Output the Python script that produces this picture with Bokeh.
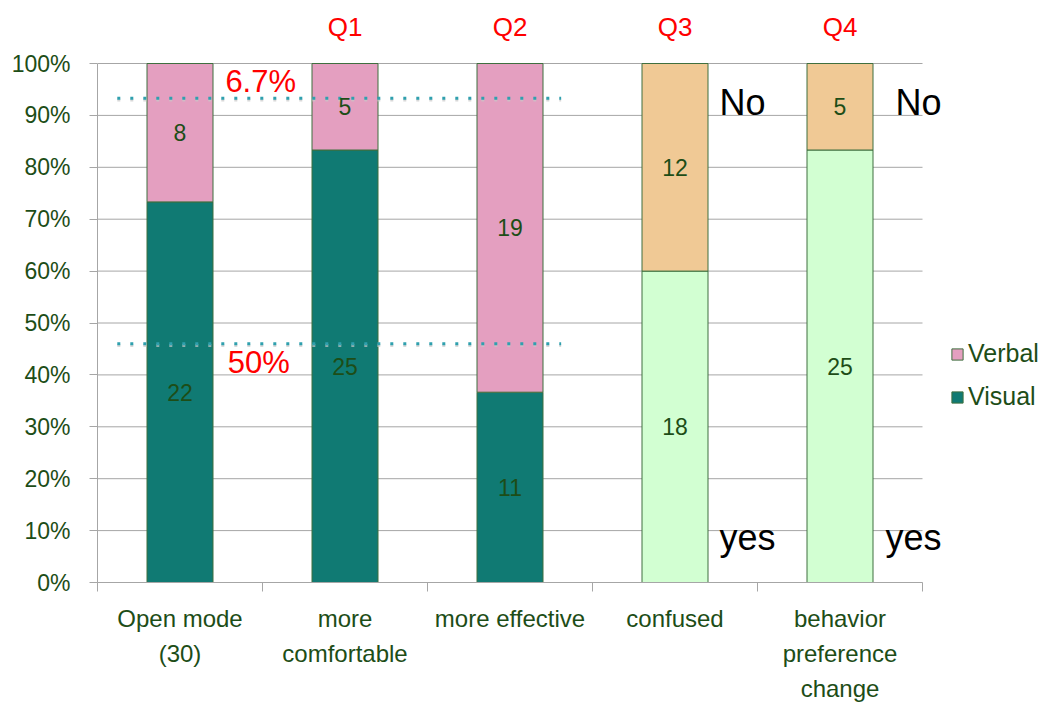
from bokeh.plotting import figure
from bokeh.models import (ColumnDataSource, FixedTicker, Legend, LegendItem,
                          PrintfTickFormatter, Range1d, LabelSet, Label)
from bokeh.core.properties import value
from bokeh.embed import file_html
from bokeh.resources import INLINE

# ---------------- data ----------------
categories = ["Open mode\n(30)", "more\ncomfortable", "more effective",
              "confused", "behavior\npreference\nchange"]
question_labels = ["", "Q1", "Q2", "Q3", "Q4"]
visual_counts = [22, 25, 11, 18, 25]   # bottom segments (Visual / yes)
verbal_counts = [8, 5, 19, 12, 5]      # top segments (Verbal / No)
bottom_colors = ["#107A73", "#107A73", "#107A73", "#D2FFD2", "#D2FFD2"]
top_colors = ["#E49FC0", "#E49FC0", "#E49FC0", "#F0C995", "#F0C995"]
ref_levels = [93.3, 46.0]              # dotted reference lines (%)
ref_labels = ["6.7%", "50%"]
y_ticks = [0, 10, 20, 30, 40, 50, 60, 70, 80, 90, 100]

FONT = "Liberation Sans"
GREEN_TXT = "#1D4D17"
GRAY = "#A6A6A6"

n = len(categories)
xc = [i + 0.5 for i in range(n)]
totals = [a + b for a, b in zip(visual_counts, verbal_counts)]
vis_pct = [a / t * 100 for a, t in zip(visual_counts, totals)]
src = ColumnDataSource(dict(
    x=xc,
    vis=vis_pct,
    top=[100.0] * n,
    bc=bottom_colors,
    tc=top_colors,
    vis_mid=[v / 2 for v in vis_pct],
    ver_mid=[(v + 100) / 2 for v in vis_pct],
    vis_txt=[str(v) for v in visual_counts],
    ver_txt=[str(v) for v in verbal_counts],
    q=question_labels,
    q_y=[107.1] * n,
))

W, H = 1045, 704
LEFT, BOTTOM = 97, 122
frame_w = W - LEFT
frame_h = H - BOTTOM
px_per_x = 165.0
px_per_pct = 5.19

p = figure(width=W, height=H,
           x_range=Range1d(0, frame_w / px_per_x),
           y_range=Range1d(0, frame_h / px_per_pct),
           output_backend="svg", toolbar_location=None,
           min_border_left=LEFT, min_border_right=0, min_border_top=0,
           min_border_bottom=BOTTOM)
p.outline_line_color = None
p.background_fill_color = "white"

# grid (only across the category area)
p.xgrid.grid_line_color = None
p.ygrid.grid_line_color = None
p.segment(x0=[0] * len(y_ticks), x1=[n] * len(y_ticks), y0=y_ticks, y1=y_ticks,
          line_color=GRAY, line_width=1)

# bars
r_vis = p.vbar(x="x", bottom=0, top="vis", width=0.4, fill_color="bc",
               line_color="#3F6F3F", line_width=1, source=src)
r_ver = p.vbar(x="x", bottom="vis", top="top", width=0.4, fill_color="tc",
               line_color="#3F6F3F", line_width=1, source=src)

# dotted reference lines
for lvl in ref_levels:
    p.line(x=[0.12, 2.81], y=[lvl - 0.35, lvl - 0.35], line_color="#C8C8C8",
           line_width=3, line_dash="3 10", alpha=0.7)
    p.line(x=[0.12, 2.81], y=[lvl, lvl], line_color="#2FA0AE",
           line_width=3, line_dash="3 10")

# value labels
for col_y, col_t in (("vis_mid", "vis_txt"), ("ver_mid", "ver_txt")):
    p.add_layout(LabelSet(x="x", y=col_y, text=col_t, source=src,
                          text_align="center", text_baseline="middle",
                          text_font=value(FONT), text_font_size="23px",
                          text_color=GREEN_TXT))
# Q labels
p.add_layout(LabelSet(x="x", y="q_y", text="q", source=src, text_align="center",
                      text_baseline="middle", text_font=value(FONT),
                      text_font_size="26px", text_color="#FF0000"))

# red percentage annotations
p.add_layout(Label(x=0.775, y=96.6, text=ref_labels[0], text_align="left",
                   text_baseline="middle", text_font=FONT,
                   text_font_size="31px", text_color="#FF0000"))
p.add_layout(Label(x=0.79, y=42.3, text=ref_labels[1], text_align="left",
                   text_baseline="middle", text_font=FONT,
                   text_font_size="31px", text_color="#FF0000"))

# No / yes annotations
for lx, ly, t in ((3.77, 92.5, "No"), (4.836, 92.5, "No"),
                  (3.77, 8.6, "yes"), (4.776, 8.6, "yes")):
    p.add_layout(Label(x=lx, y=ly, text=t, text_align="left",
                       text_baseline="middle", text_font=FONT,
                       text_font_size="36px", text_color="#000000"))

# axes
xa = p.xaxis[0]
xa.bounds = (0, n)
xa.ticker = FixedTicker(ticks=xc, minor_ticks=list(range(n + 1)))
xa.major_label_overrides = {x: c for x, c in zip(xc, categories)}
xa.major_tick_line_color = None
xa.major_tick_out = 9
xa.major_tick_in = 0
xa.minor_tick_line_color = GRAY
xa.minor_tick_out = 9
xa.minor_tick_in = 0
xa.axis_line_color = GRAY
xa.major_label_standoff = 13
xa.major_label_text_font = FONT
xa.major_label_text_font_size = "24px"
xa.major_label_text_color = GREEN_TXT
xa.major_label_text_line_height = 1.3

ya = p.yaxis[0]
ya.bounds = (0, 100)
ya.ticker = FixedTicker(ticks=y_ticks)
ya.formatter = PrintfTickFormatter(format="%d%%")
ya.axis_line_color = GRAY
ya.major_tick_line_color = GRAY
ya.major_tick_out = 8
ya.major_tick_in = 0
ya.minor_tick_line_color = None
ya.major_label_standoff = 19
ya.major_label_text_font = FONT
ya.major_label_text_font_size = "23px"
ya.major_label_text_color = GREEN_TXT

# legend
legend = Legend(items=[LegendItem(label="Verbal", renderers=[r_ver], index=0),
                       LegendItem(label="Visual", renderers=[r_vis], index=0)],
                location=(853, 171), orientation="vertical",
                label_text_font=FONT, label_text_font_size="25px",
                label_text_color=GREEN_TXT, glyph_width=14, glyph_height=14,
                label_standoff=4, spacing=14, padding=0, margin=0,
                background_fill_alpha=0, border_line_alpha=0)
p.add_layout(legend, "center")

open("out.html", "w").write(file_html(p, INLINE))
